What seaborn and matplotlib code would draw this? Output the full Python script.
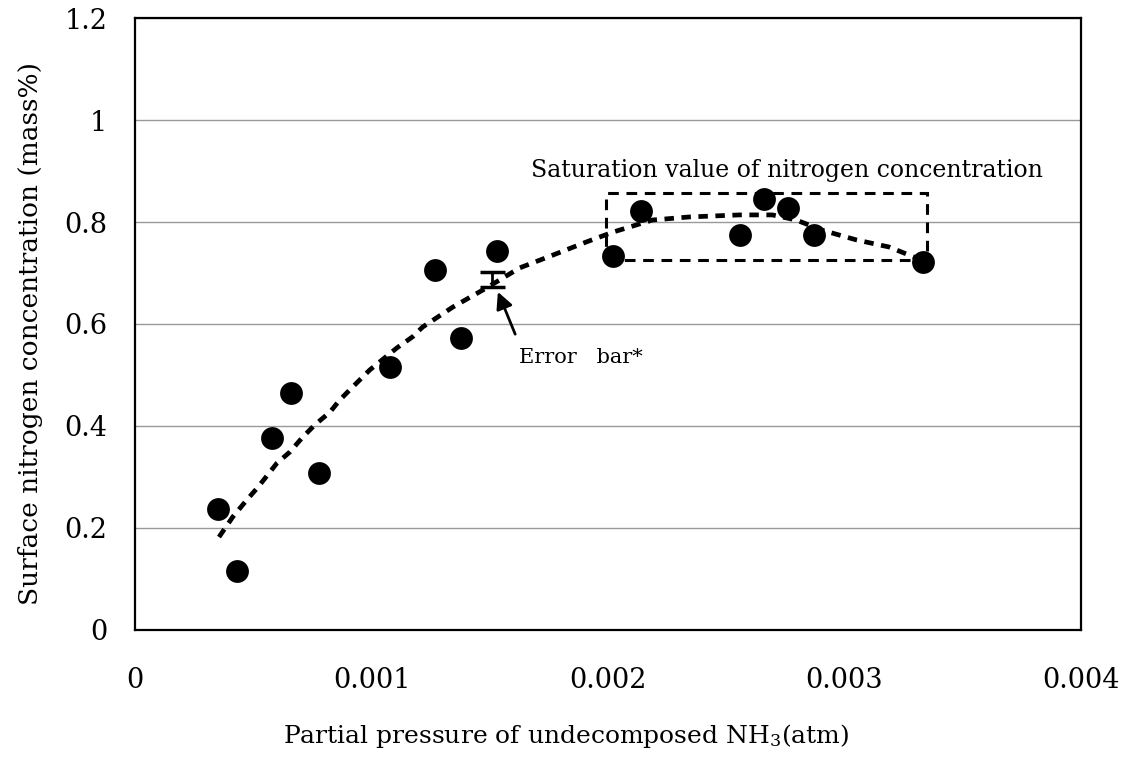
import matplotlib
matplotlib.use("Agg")
import matplotlib.pyplot as plt
import seaborn as sns
import pandas as pd
from matplotlib.patches import Rectangle

# measured points
pressure = [0.00035, 0.00043, 0.000578, 0.000658, 0.000776, 0.00108, 0.00127, 0.00138,
            0.00153, 0.00202, 0.00214, 0.00256, 0.00266, 0.00276, 0.00287, 0.00333]
concentration = [0.237, 0.116, 0.376, 0.465, 0.308, 0.516, 0.706, 0.573,
                 0.743, 0.733, 0.822, 0.775, 0.845, 0.827, 0.775, 0.722]

# dashed trend curve
trend_x = [0.000355, 0.000414, 0.000473, 0.000520, 0.000600, 0.000655, 0.000705, 0.000760,
           0.000824, 0.000866, 0.000917, 0.000993, 0.001107, 0.001174, 0.001216, 0.001343,
           0.001487, 0.001626, 0.001766, 0.001909, 0.002019, 0.002188, 0.002344, 0.002556,
           0.002695, 0.002796, 0.002906, 0.003050, 0.003189, 0.003328]
trend_y = [0.182, 0.222, 0.255, 0.280, 0.327, 0.349, 0.376, 0.402,
           0.427, 0.451, 0.475, 0.510, 0.553, 0.575, 0.594, 0.633,
           0.671, 0.710, 0.735, 0.761, 0.780, 0.804, 0.810, 0.814,
           0.814, 0.804, 0.784, 0.765, 0.751, 0.725]

# error bar
err_x = [0.00151]
err_y = [0.6875]
err_half = [0.0145]

# saturation box
box_x = [0.00199, 0.00335]
box_y = [0.725, 0.857]

x_ticks = [0, 0.001, 0.002, 0.003, 0.004]
x_tick_labels = ["0", "0.001", "0.002", "0.003", "0.004"]
y_ticks = [0, 0.2, 0.4, 0.6, 0.8, 1.0, 1.2]
y_tick_labels = ["0", "0.2", "0.4", "0.6", "0.8", "1", "1.2"]

sns.set_style("white")
plt.rcParams["font.family"] = ["DejaVu Serif"]
plt.rcParams["mathtext.fontset"] = "dejavuserif"
for k in ["text.color", "axes.labelcolor", "xtick.color", "ytick.color"]:
    plt.rcParams[k] = "black"

fig = plt.figure(figsize=(11.3, 7.57), dpi=100)
ax = fig.add_axes([0.1195, 0.168, 0.8371, 0.808])

ax.yaxis.grid(True, color="#999999", linewidth=1.0)
ax.set_axisbelow(True)

df_pts = pd.DataFrame({"x": pressure, "y": concentration})
df_tr = pd.DataFrame({"x": trend_x, "y": trend_y})

sns.lineplot(data=df_tr, x="x", y="y", sort=False, ax=ax, color="black",
             linewidth=3.4, linestyle=(0, (2.0, 1.6)), zorder=3)
sns.scatterplot(data=df_pts, x="x", y="y", ax=ax, color="black", s=270,
                edgecolor="black", linewidth=0, zorder=4)

ax.errorbar(err_x, err_y, yerr=err_half, fmt="none", ecolor="black",
            elinewidth=2, capsize=9, capthick=2.5, zorder=5)

rect = Rectangle((box_x[0], box_y[0]), box_x[1] - box_x[0], box_y[1] - box_y[0],
                 fill=False, edgecolor="black", linewidth=2.2,
                 linestyle=(0, (3.5, 2.5)), zorder=3)
ax.add_patch(rect)

ax.text(0.001675, 0.878, "Saturation value of nitrogen concentration",
        ha="left", va="bottom", fontsize=17)

ax.annotate("", xy=(0.001530, 0.668), xytext=(0.001612, 0.575),
            arrowprops=dict(arrowstyle="-|>", color="black", lw=2,
                            mutation_scale=25))
ax.text(0.001622, 0.535, "Error   bar*", ha="left", va="center", fontsize=15)

ax.set_xlim(0, 0.004)
ax.set_ylim(0, 1.2)
ax.set_xticks(x_ticks)
ax.set_xticklabels(x_tick_labels)
ax.set_yticks(y_ticks)
ax.set_yticklabels(y_tick_labels)
ax.tick_params(axis="x", direction="in", length=5, width=1, color="#999999",
               pad=27, labelsize=19.5)
ax.tick_params(axis="y", length=0, pad=20, labelsize=19.5)

ax.set_xlabel("Partial pressure of undecomposed NH$_3$(atm)", fontsize=18)
ax.set_ylabel("Surface nitrogen concentration (mass%)", fontsize=19)
ax.xaxis.set_label_coords(0.456, -0.150)
ax.yaxis.set_label_coords(-0.097, 0.484)

for s in ax.spines.values():
    s.set_color("black")
    s.set_linewidth(1.6)

fig.savefig("out.png", dpi=100)
